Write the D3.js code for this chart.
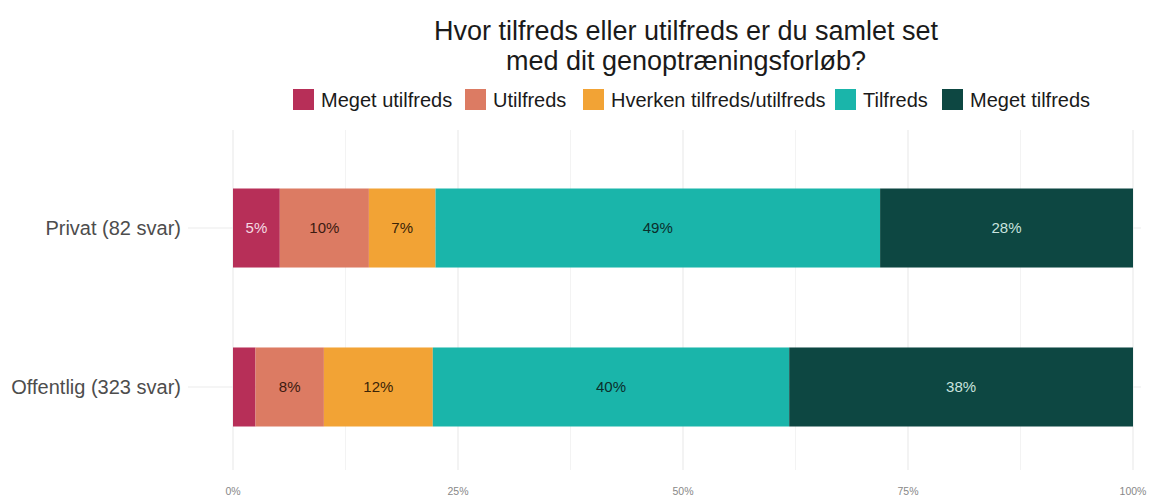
<!DOCTYPE html>
<html lang="da">
<head>
<meta charset="UTF-8">
<title>Genoptræning</title>
<script src="https://d3js.org/d3.v7.min.js"></script>
<style>
  body { margin: 0; background: #fff; }
  text { font-family: "Liberation Sans", Arial, sans-serif; }
</style>
</head>
<body>
<svg class="chart" width="1149" height="497"></svg>
<script>
// data
const groups = ['Privat (82 svar)', 'Offentlig (323 svar)']
const answers = ['Meget utilfreds', 'Utilfreds', 'Hverken tilfreds/utilfreds', 'Tilfreds', 'Meget tilfreds']
const privat = [5.2, 9.9, 7.4, 49.4, 28.1]
const offentlig = [2.5, 7.6, 12.1, 39.6, 38.2]
const colors = ['#b72f58', '#dc7b63', '#f2a335', '#1ab5aa', '#0d4742']
const labelColors = ['#f4dbe3', '#3b1a10', '#3b2408', '#0b2f2c', '#c9e3df']
const xTicks = [0, 25, 50, 75, 100]

const svg = d3.select('.chart')
const margin = { top: 130, right: 16, bottom: 22, left: 233 }
const innerWidth = 900
const innerHeight = 497 - margin.top - margin.bottom

const xScale = d3.scaleLinear().domain([0, 100]).range([0, innerWidth])
const yScale = d3.scaleBand().domain(groups).range([58.5, 296.5]).paddingInner(0.503).paddingOuter(0)

const g = svg.append('g').attr('transform', `translate(${margin.left},${margin.top})`)

// grid
const minor = d3.range(12.5, 100, 25)
g.selectAll('.minor').data(minor).enter().append('line')
  .attr('x1', d => xScale(d)).attr('x2', d => xScale(d))
  .attr('y1', 0).attr('y2', innerHeight - 5)
  .attr('stroke', '#f3f3f3').attr('stroke-width', 1)
g.selectAll('.major').data(xTicks).enter().append('line')
  .attr('x1', d => xScale(d)).attr('x2', d => xScale(d))
  .attr('y1', 0).attr('y2', innerHeight - 5)
  .attr('stroke', '#ebebeb').attr('stroke-width', 1.2)
g.selectAll('.hgrid').data(groups).enter().append('line')
  .attr('x1', -45).attr('x2', innerWidth + 8)
  .attr('y1', d => yScale(d) + yScale.bandwidth() / 2)
  .attr('y2', d => yScale(d) + yScale.bandwidth() / 2)
  .attr('stroke', '#ebebeb').attr('stroke-width', 1.2)

// stacked bars
const rows = groups.map((name, i) => {
  const vals = i === 0 ? privat : offentlig
  let acc = 0
  return vals.map((v, j) => {
    const seg = { name, j, v, x0: acc, x1: acc + v }
    acc += v
    return seg
  })
}).flat()

g.selectAll('rect').data(rows).enter().append('rect')
  .attr('x', d => xScale(d.x0))
  .attr('y', d => yScale(d.name))
  .attr('width', d => xScale(d.x1) - xScale(d.x0))
  .attr('height', yScale.bandwidth())
  .attr('fill', d => colors[d.j])

g.selectAll('.lbl').data(rows.filter(d => d.v >= 4)).enter().append('text')
  .attr('x', d => xScale((d.x0 + d.x1) / 2))
  .attr('y', d => yScale(d.name) + yScale.bandwidth() / 2)
  .attr('dy', '0.35em')
  .attr('text-anchor', 'middle')
  .attr('font-family', 'Lato, sans-serif')
  .attr('font-size', 15)
  .attr('fill', d => labelColors[d.j])
  .text(d => Math.round(d.v) + '%')

// y axis labels
g.selectAll('.ylab').data(groups).enter().append('text')
  .attr('x', -52)
  .attr('y', d => yScale(d) + yScale.bandwidth() / 2)
  .attr('dy', '0.35em')
  .attr('text-anchor', 'end')
  .attr('font-size', 20)
  .attr('fill', '#4d4d4d')
  .text(d => d)

// x tick labels
g.selectAll('.xlab').data(xTicks).enter().append('text')
  .attr('x', d => xScale(d))
  .attr('y', innerHeight + 20)
  .attr('text-anchor', 'middle')
  .attr('font-size', 10.5)
  .attr('fill', '#888')
  .text(d => d + '%')

// title
const title = svg.append('text').attr('text-anchor', 'middle').attr('font-size', 27).attr('fill', '#1a1a1a')
title.append('tspan').attr('x', 686).attr('y', 40).text('Hvor tilfreds eller utilfreds er du samlet set')
title.append('tspan').attr('x', 686).attr('y', 70).text('med dit genoptræningsforløb?')

// legend
const legendX = [293, 465, 583, 835, 942]
const legend = svg.append('g')
answers.forEach((a, i) => {
  legend.append('rect').attr('x', legendX[i]).attr('y', 89).attr('width', 21).attr('height', 21).attr('fill', colors[i])
  legend.append('text').attr('x', legendX[i] + 28).attr('y', 100).attr('dy', '0.35em')
    .attr('font-size', 20).attr('fill', '#1a1a1a').text(a)
})
</script>
</body>
</html>
